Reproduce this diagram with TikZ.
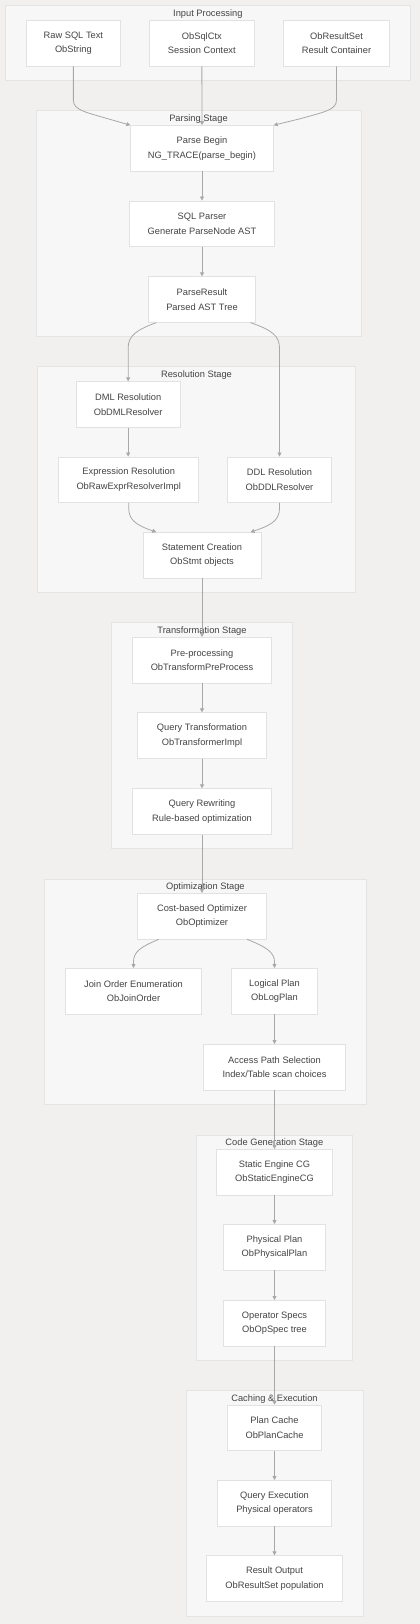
\documentclass[tikz,border=0pt]{standalone}
\usepackage{fontspec}
\setmainfont{Liberation Sans}
\usetikzlibrary{arrows.meta,calc}
\definecolor{bg}{HTML}{F1F0EE}
\definecolor{clfill}{HTML}{F7F7F7}
\definecolor{clline}{HTML}{E4E4E4}
\definecolor{ndline}{HTML}{E2E2E2}
\definecolor{txt}{HTML}{444444}
\definecolor{edgec}{HTML}{A8A8A8}
\begin{document}
\begin{tikzpicture}[x=1pt,y=1pt,
  box/.style={draw=ndline, fill=white, line width=0.8pt, minimum height=45.5pt, inner sep=0pt, align=center, text=txt, font=\fontsize{9.3}{14.5}\selectfont},
  cluster/.style={draw=clline, fill=clfill, line width=0.8pt},
  ctitle/.style={text=txt, font=\fontsize{9.3}{11}\selectfont, anchor=base, inner sep=0pt},
  link/.style={draw=edgec, line width=0.8pt, -{Triangle[length=4pt,width=4pt]}},
]
\useasboundingbox (0,0) rectangle (420,-1624);
\fill[bg] (0,0) rectangle (420,-1624);

% clusters
\draw[cluster] (5.7,-5.7) rectangle (410,-80.7);
\node[ctitle] (t1) at (207.85,-16.65) {Input Processing};
\draw[cluster] (36,-110.7) rectangle (361,-336.7);
\node[ctitle] (t2) at (198.5,-121.05) {Parsing Stage};
\draw[cluster] (37.7,-366.7) rectangle (355.3,-592.3);
\node[ctitle] (t3) at (196.5,-377.35) {Resolution Stage};
\draw[cluster] (111.7,-622.7) rectangle (292.3,-848.3);
\node[ctitle] (t4) at (202,-633.05) {Transformation Stage};
\draw[cluster] (44.7,-879) rectangle (366,-1104);
\node[ctitle] (t5) at (205.35,-889.05) {Optimization Stage};
\draw[cluster] (196.7,-1135) rectangle (352,-1360);
\node[ctitle] (t6) at (274.35,-1145.05) {Code Generation Stage};
\draw[cluster] (186,-1390.7) rectangle (363,-1616);
\node[ctitle] (t7) at (274.5,-1401.05) {Caching \& Execution};

% nodes
\node[box, minimum width=93.3pt] (raw) at (73.35,-43.35) {Raw SQL Text\\ObString};
\node[box, minimum width=104.3pt] (ctx) at (201.85,-43.35) {ObSqlCtx\\Session Context};
\node[box, minimum width=105.6pt] (rs) at (336.5,-43.35) {ObResultSet\\Result Container};
\node[box, minimum width=142.6pt] (pb) at (202,-148.35) {Parse Begin\\NG\_TRACE(parse\_begin)};
\node[box, minimum width=144.6pt] (sp) at (202,-223.7) {SQL Parser\\Generate ParseNode AST};
\node[box, minimum width=106.6pt] (pr) at (202,-299.5) {ParseResult\\Parsed AST Tree};
\node[box, minimum width=104.3pt] (dml) at (128.15,-404.5) {DML Resolution\\ObDMLResolver};
\node[box, minimum width=140pt] (expr) at (128.7,-479.7) {Expression Resolution\\ObRawExprResolverImpl};
\node[box, minimum width=103.6pt] (ddl) at (279.5,-479.7) {DDL Resolution\\ObDDLResolver};
\node[box, minimum width=118pt] (stmt) at (202,-555.3) {Statement Creation\\ObStmt objects};
\node[box, minimum width=138.6pt] (pre) at (202,-660.15) {Pre-processing\\ObTransformPreProcess};
\node[box, minimum width=128.6pt] (qt) at (202,-735.5) {Query Transformation\\ObTransformerImpl};
\node[box, minimum width=138.6pt] (qr) at (202,-811.5) {Query Rewriting\\Rule-based optimization};
\node[box, minimum width=128.6pt] (cbo) at (202,-916.15) {Cost-based Optimizer\\ObOptimizer};
\node[box, minimum width=135.6pt] (join) at (133.5,-991.15) {Join Order Enumeration\\ObJoinOrder};
\node[box, minimum width=85.6pt] (log) at (274.5,-991.15) {Logical Plan\\ObLogPlan};
\node[box, minimum width=141.3pt] (acc) at (274.5,-1067.15) {Access Path Selection\\Index/Table scan choices};
\node[box, minimum width=115.3pt] (sec) at (274.5,-1172.15) {Static Engine CG\\ObStaticEngineCG};
\node[box, minimum width=101.6pt] (phys) at (274.5,-1247.15) {Physical Plan\\ObPhysicalPlan};
\node[box, minimum width=102.3pt] (ops) at (274.5,-1323.15) {Operator Specs\\ObOpSpec tree};
\node[box, minimum width=93.6pt] (pc) at (274.5,-1427.85) {Plan Cache\\ObPlanCache};
\node[box, minimum width=113.6pt] (qe) at (274.5,-1503.15) {Query Execution\\Physical operators};
\node[box, minimum width=136pt] (ro) at (274.5,-1578.5) {Result Output\\ObResultSet population};

% edges
\draw[link] (raw.south) -- (73.35,-100) .. controls (73.35,-110) and (85,-112) .. (107,-118.5) -- (pb.north west);
\draw[link] (ctx.south) -- (pb.north);
\draw[link] (rs.south) -- (336.5,-100) .. controls (336.5,-110) and (324,-112) .. (300,-118.8) -- (pb.north east);
\draw[link] (pb) -- (sp);
\draw[link] (sp) -- (pr);
\draw[link] ([xshift=8pt]pr.south west) .. controls (136,-330) and (128.15,-336) .. (128.15,-348) -- (dml.north);
\draw[link] ([xshift=-5.3pt]pr.south east) .. controls (272,-330) and (279.5,-336) .. (279.5,-348) -- (ddl.north);
\draw[link] (dml.south) -- (dml.south |- expr.north);
\draw[link] (expr.south) -- (128.7,-508) .. controls (128.7,-520) and (136,-525) .. ([xshift=13.7pt]stmt.north west);
\draw[link] (ddl.south) -- (279.5,-508) .. controls (279.5,-520) and (272,-525) .. ([xshift=-11pt]stmt.north east);
\draw[link] (stmt) -- (pre);
\draw[link] (pre) -- (qt);
\draw[link] (qt) -- (qr);
\draw[link] (qr) -- (cbo);
\draw[link] ([xshift=21.6pt]cbo.south west) .. controls (140,-947) and (133.5,-952) .. (133.5,-962) -- (join.north);
\draw[link] ([xshift=-19.6pt]cbo.south east) .. controls (266,-947) and (274.5,-952) .. (274.5,-962) -- (log.north);
\draw[link] (log) -- (acc);
\draw[link] (acc) -- (sec);
\draw[link] (sec) -- (phys);
\draw[link] (phys) -- (ops);
\draw[link] (ops) -- (pc);
\draw[link] (pc) -- (qe);
\draw[link] (qe) -- (ro);
\end{tikzpicture}
\end{document}
